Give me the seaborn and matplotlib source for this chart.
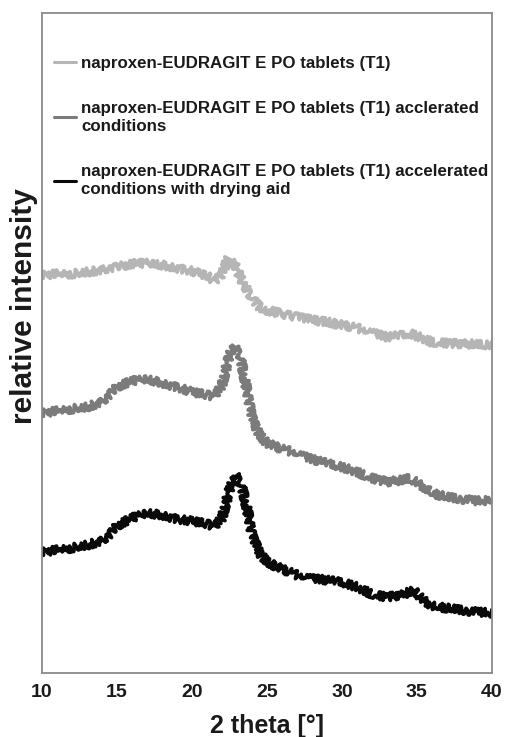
import matplotlib
matplotlib.use("Agg")
import matplotlib.pyplot as plt
import seaborn as sns
import pandas as pd

# Diffraction traces (2 theta in degrees, intensity in arbitrary stacked units)
t1_theta = [10, 11, 12, 13, 14, 15, 16, 17, 18, 19, 20, 21, 21.5, 22, 22.4, 22.8,
            23.3, 24, 24.5, 25, 26, 27, 28, 29, 30, 31, 32, 33, 34, 34.5, 35, 36,
            37, 38, 39, 40]
t1_int = [398, 399, 399, 401, 403, 406, 409, 410, 408, 405, 402, 397, 392, 398,
          415, 410, 393, 375, 366, 363, 359, 356, 353, 351, 348, 345, 341, 336,
          338, 340, 337, 331, 330, 329, 329, 328]

acc_theta = [10, 11, 12, 13, 14, 14.5, 15, 16, 17, 18, 19, 20, 21, 21.5, 22, 22.5,
             22.8, 23.2, 23.6, 24, 24.5, 25, 26, 27, 28, 29, 30, 31, 32, 33, 34,
             34.5, 35, 36, 37, 38, 39, 40]
acc_int = [260, 262, 264, 266, 271, 278, 286, 292, 294, 290, 286, 281, 278, 276,
           288, 318, 327, 318, 288, 255, 238, 230, 224, 220, 214, 210, 206, 201,
           195, 191, 193, 195, 191, 180, 176, 174, 172, 173]

dry_theta = [10, 11, 12, 13, 14, 14.5, 15, 16, 17, 18, 19, 20, 21, 21.5, 22, 22.5,
             22.9, 23.3, 23.7, 24, 24.5, 25, 26, 27, 28, 29, 30, 31, 32, 33, 34,
             34.8, 35.3, 36, 37, 38, 39, 40]
dry_int = [121, 123, 125, 128, 132, 138, 147, 155, 160, 158, 154, 152, 149, 146,
           155, 183, 198, 188, 163, 138, 120, 111, 104, 98, 95, 93, 91, 86, 79,
           76, 78, 83, 75, 67, 65, 63, 61, 60]

labels = [
    "naproxen-EUDRAGIT E PO tablets (T1)",
    "naproxen-EUDRAGIT E PO tablets (T1) acclerated\nconditions",
    "naproxen-EUDRAGIT E PO tablets (T1) accelerated\nconditions with drying aid",
]
colors = ["#b5b5b5", "#7b7b7b", "#0a0a0a"]
x_ticks = [10, 15, 20, 25, 30, 35, 40]

frames = []
for lab, th, it in zip(labels, [t1_theta, acc_theta, dry_theta],
                       [t1_int, acc_int, dry_int]):
    frames.append(pd.DataFrame({"theta": th, "intensity": it, "sample": lab}))
df = pd.concat(frames, ignore_index=True)

sns.set_style("white")
plt.rcParams["font.family"] = ["Liberation Sans", "DejaVu Sans"]
text_color = "#1a1a1a"

fig = plt.figure(figsize=(5.06, 7.37), dpi=100)
ax = fig.add_axes([0.083, 0.0868, 0.889, 0.8956])

sns.lineplot(data=df, x="theta", y="intensity", hue="sample", hue_order=labels,
             palette=colors, sort=False, estimator=None, linewidth=2.7, ax=ax,
             legend=False)

# jagged stroke to give the traces their counting-noise texture
for line in ax.get_lines():
    line.set_sketch_params(scale=4.0, length=0.6, randomness=5)

ax.set_xlim(10, 40)
ax.set_ylim(0, 660)
ax.set_xticks(x_ticks)
ax.set_xticklabels([str(t) for t in x_ticks], fontsize=14, fontweight="bold",
                   color=text_color)
ax.set_yticks([])
ax.tick_params(axis="x", length=0, pad=8)
ax.set_xlabel("2 theta [°]", fontsize=18, fontweight="bold", labelpad=9,
              color=text_color)
ax.set_ylabel("relative intensity", fontsize=21.5, fontweight="bold",
              color=text_color)
ax.yaxis.set_label_coords(-0.008, 0.556)

for sp in ax.spines.values():
    sp.set_color("#8a8a8a")
    sp.set_linewidth(1.3)

handles = [plt.Line2D([], [], color=c, linewidth=2.2) for c in colors]
leg = ax.legend(handles, labels, loc="upper left", bbox_to_anchor=(0.0, 0.953),
                frameon=False, handlelength=1.3, handletextpad=0.3,
                labelspacing=1.75, borderaxespad=0.3,
                prop={"weight": "bold", "size": 12.2})
for t in leg.get_texts():
    t.set_color(text_color)
    t.set_linespacing(1.3)

fig.savefig("out.png", dpi=100)
